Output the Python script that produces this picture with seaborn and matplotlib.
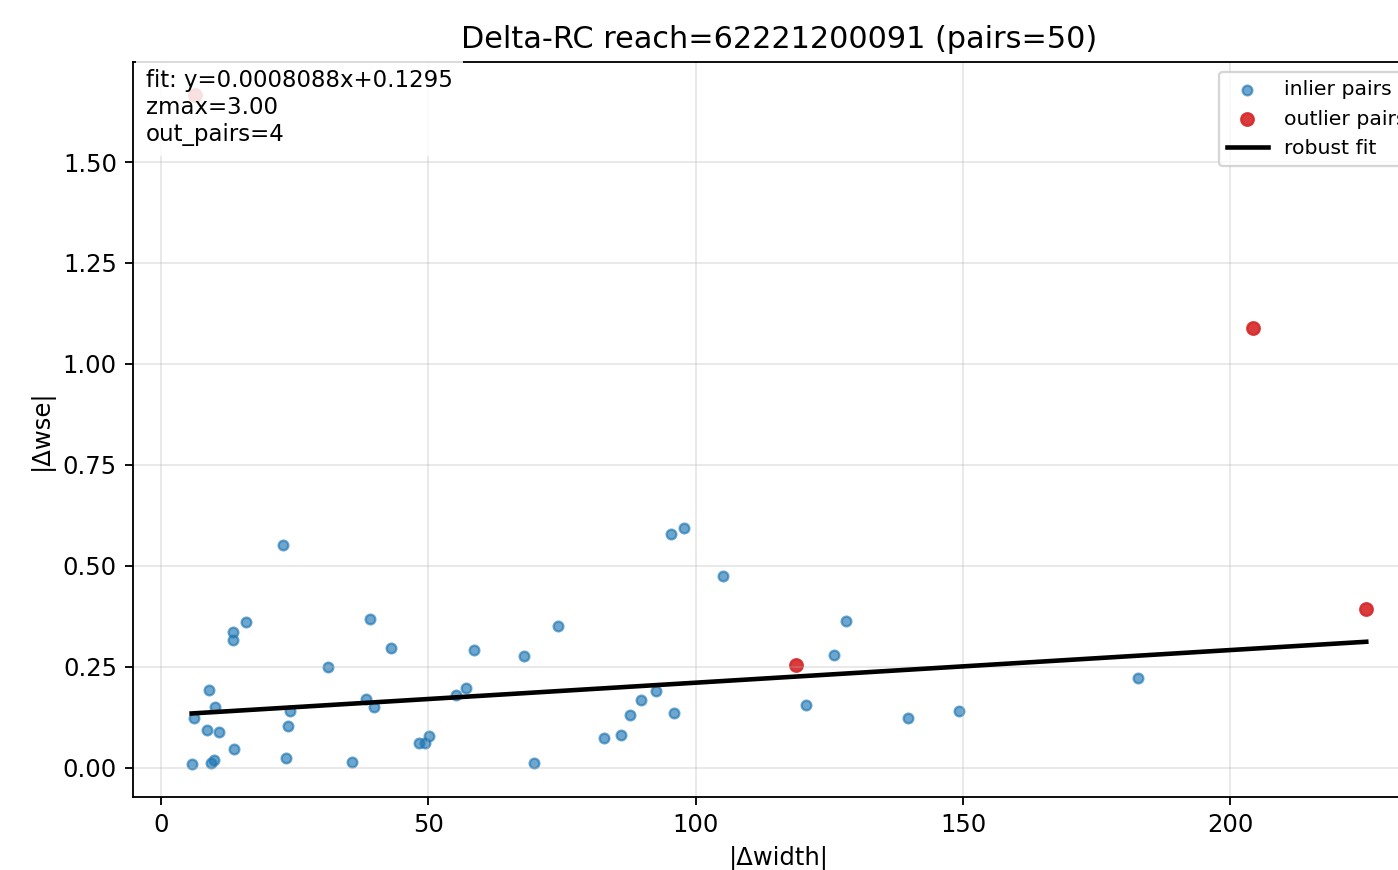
import numpy as np
import pandas as pd
import matplotlib
matplotlib.use("Agg")
import matplotlib.pyplot as plt
import seaborn as sns

title = "Delta-RC reach=62221200091 (pairs=50)"
xlabel = "|Δwidth|"
ylabel = "|Δwse|"

inlier_x = [5.8, 6.2, 9.0, 8.6, 10.1, 9.5, 9.9, 11.0, 13.5, 13.5, 15.9, 13.7,
            22.8, 23.4, 23.8, 24.1, 31.2, 35.7, 38.4, 39.1, 39.9, 43.0, 48.3,
            49.4, 50.1, 55.2, 57.1, 58.6, 67.9, 69.8, 74.3, 82.9, 86.1, 87.7,
            89.8, 92.6, 95.4, 97.8, 96.0, 105.1, 120.7, 125.9, 128.2, 139.8,
            149.3, 182.8]
inlier_y = [0.010, 0.124, 0.193, 0.094, 0.151, 0.012, 0.020, 0.089, 0.336,
            0.316, 0.361, 0.047, 0.551, 0.025, 0.104, 0.141, 0.250, 0.015,
            0.170, 0.368, 0.151, 0.297, 0.062, 0.062, 0.079, 0.180, 0.198,
            0.292, 0.277, 0.012, 0.351, 0.074, 0.082, 0.131, 0.168, 0.190,
            0.578, 0.593, 0.136, 0.474, 0.156, 0.279, 0.363, 0.124, 0.141,
            0.222]
outlier_x = [6.4, 118.8, 204.3, 225.4]
outlier_y = [1.665, 0.255, 1.090, 0.393]

fit_slope = 0.0008088
fit_intercept = 0.1295
zmax = 3.00

dpi = 165
fig = plt.figure(figsize=(1398 / dpi, 870 / dpi), dpi=dpi)
ax = fig.add_axes([0.0951, 0.0839, 0.9242, 0.8448])

inl = pd.DataFrame({"x": inlier_x, "y": inlier_y})
out = pd.DataFrame({"x": outlier_x, "y": outlier_y})

sns.scatterplot(data=inl, x="x", y="y", ax=ax, s=18, color="#1f77b4",
                alpha=0.65, edgecolor="face", linewidth=1.0, label="inlier pairs")
sns.scatterplot(data=out, x="x", y="y", ax=ax, s=30, color="#d62728",
                alpha=0.9, edgecolor="face", linewidth=1.0, label="outlier pairs")

all_x = np.array(inlier_x + outlier_x)
xx = np.array([all_x.min(), all_x.max()])
line = pd.DataFrame({"x": xx, "y": fit_slope * xx + fit_intercept})
sns.lineplot(data=line, x="x", y="y", ax=ax, color="black", lw=2,
             label="robust fit")

ax.set_title(title, fontsize=13.2)
ax.set_xlabel(xlabel, fontsize=10.6)
ax.set_ylabel(ylabel, fontsize=10.6)
ax.grid(True, alpha=0.3)
ax.tick_params(labelsize=10.6)
ax.set_yticks([0.0, 0.25, 0.5, 0.75, 1.0, 1.25, 1.5])
ax.set_xticks([0, 50, 100, 150, 200])
ax.legend(loc="upper right", fontsize=8.9)

txt = f"fit: y={fit_slope:.7f}x+{fit_intercept:.4f}\nzmax={zmax:.2f}\nout_pairs={len(outlier_x)}"
ax.text(0.01, 0.99, txt, transform=ax.transAxes, va="top", ha="left",
        fontsize=10,
        bbox=dict(boxstyle="square,pad=0.45", facecolor="white",
                  edgecolor="none", alpha=0.85))

fig.savefig("out.png", dpi=dpi)
